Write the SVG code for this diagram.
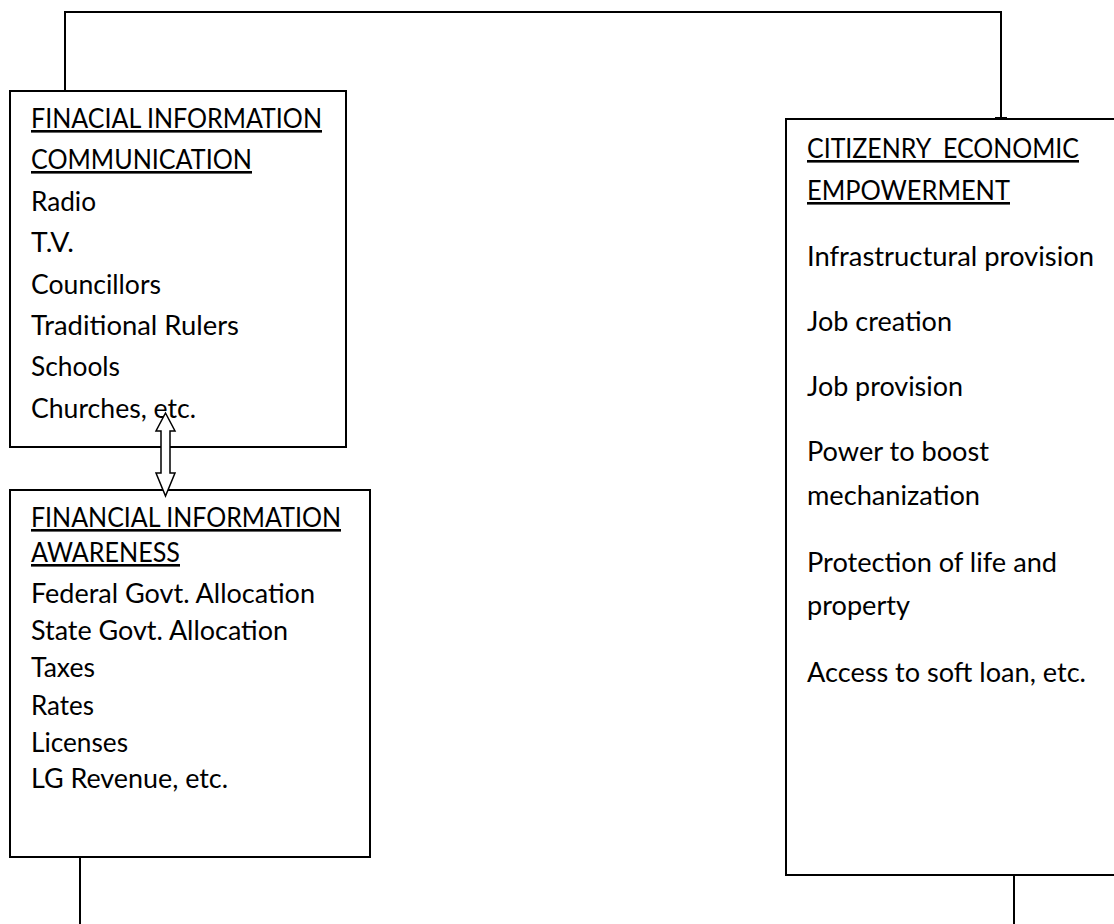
<svg xmlns="http://www.w3.org/2000/svg" width="1114" height="924" viewBox="0 0 1114 924">
<style>
.box{fill:#fff;stroke:#000;stroke-width:2}
.ln{fill:none;stroke:#000;stroke-width:2}
.t{font-family:Lato,"Open Sans","Liberation Sans",sans-serif;font-size:26px;fill:#000;white-space:pre}
.h{text-decoration:underline}
.arr{fill:#fff;stroke:#000;stroke-width:1.5;stroke-linejoin:miter}
</style>
<rect width="1114" height="924" fill="#fff"/>
<g id="connectors">
<path class="ln" d="M65,91 V12 H1001 V119"/>
<path class="ln" d="M995,118 H1007"/>
<path class="ln" d="M80,857 V924"/>
<path class="ln" d="M1014,875 V924"/>
</g>
<g id="box-communication">
<rect class="box" x="10" y="91" width="336" height="356"/>
<text class="t h" x="31" y="128" textLength="291" lengthAdjust="spacingAndGlyphs">FINACIAL INFORMATION</text>
<text class="t h" x="31" y="169" textLength="221" lengthAdjust="spacingAndGlyphs">COMMUNICATION</text>
<text class="t" x="31" y="211" textLength="65" lengthAdjust="spacingAndGlyphs">Radio</text>
<text class="t" x="31" y="252" textLength="43" lengthAdjust="spacingAndGlyphs">T.V.</text>
<text class="t" x="31" y="294" textLength="130" lengthAdjust="spacingAndGlyphs">Councillors</text>
<text class="t" x="31" y="335" textLength="208" lengthAdjust="spacingAndGlyphs">Traditional Rulers</text>
<text class="t" x="31" y="376" textLength="89" lengthAdjust="spacingAndGlyphs">Schools</text>
<text class="t" x="31" y="418" textLength="165" lengthAdjust="spacingAndGlyphs">Churches, etc.</text>
</g>
<g id="box-awareness">
<rect class="box" x="10" y="490" width="360" height="367"/>
<text class="t h" x="31" y="527" textLength="310" lengthAdjust="spacingAndGlyphs">FINANCIAL INFORMATION</text>
<text class="t h" x="31" y="562" textLength="149" lengthAdjust="spacingAndGlyphs">AWARENESS</text>
<text class="t" x="31" y="603" textLength="284" lengthAdjust="spacingAndGlyphs">Federal Govt. Allocation</text>
<text class="t" x="31" y="640" textLength="257" lengthAdjust="spacingAndGlyphs">State Govt. Allocation</text>
<text class="t" x="31" y="677" textLength="64" lengthAdjust="spacingAndGlyphs">Taxes</text>
<text class="t" x="31" y="715" textLength="63" lengthAdjust="spacingAndGlyphs">Rates</text>
<text class="t" x="31" y="752" textLength="97" lengthAdjust="spacingAndGlyphs">Licenses</text>
<text class="t" x="31" y="788" textLength="197" lengthAdjust="spacingAndGlyphs">LG Revenue, etc.</text>
</g>
<g id="box-empowerment">
<rect class="box" x="786" y="119" width="340" height="756"/>
<text class="t h" x="807" y="158" textLength="272" lengthAdjust="spacingAndGlyphs" xml:space="preserve">CITIZENRY  ECONOMIC</text>
<text class="t h" x="807" y="200" textLength="203" lengthAdjust="spacingAndGlyphs">EMPOWERMENT</text>
<text class="t" x="807" y="266" textLength="287" lengthAdjust="spacingAndGlyphs">Infrastructural provision</text>
<text class="t" x="807" y="331" textLength="145" lengthAdjust="spacingAndGlyphs">Job creation</text>
<text class="t" x="807" y="396" textLength="156" lengthAdjust="spacingAndGlyphs">Job provision</text>
<text class="t" x="807" y="461" textLength="182" lengthAdjust="spacingAndGlyphs">Power to boost</text>
<text class="t" x="807" y="505" textLength="173" lengthAdjust="spacingAndGlyphs">mechanization</text>
<text class="t" x="807" y="572" textLength="250" lengthAdjust="spacingAndGlyphs">Protection of life and</text>
<text class="t" x="807" y="615" textLength="103" lengthAdjust="spacingAndGlyphs">property</text>
<text class="t" x="807" y="682" textLength="279" lengthAdjust="spacingAndGlyphs">Access to soft loan, etc.</text>
</g>
<g id="double-arrow">
<path class="arr" d="M165.5,413 L175,431 H170 V473 H175 L165.5,496 L156,473 H161 V431 H156 Z"/>
</g>
</svg>
